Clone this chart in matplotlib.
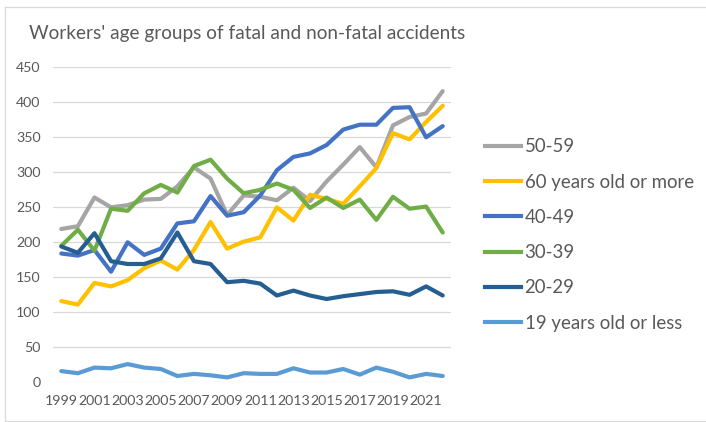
import matplotlib
matplotlib.use("Agg")
import matplotlib.pyplot as plt
from matplotlib.lines import Line2D

years = list(range(1999, 2023))
series_names = ["50-59", "60 years old or more", "40-49", "30-39", "20-29", "19 years old or less"]

age_50_59 = [219, 223, 264, 250, 253, 261, 262, 280, 307, 291, 239, 267,
             265, 260, 278, 259, 287, 311, 336, 307, 367, 379, 384, 416]
age_60_plus = [116, 111, 142, 137, 146, 163, 174, 161, 189, 229, 191, 201,
               207, 250, 231, 268, 262, 255, 280, 306, 356, 347, 372, 395]
age_40_49 = [184, 181, 189, 158, 200, 182, 191, 227, 230, 266, 238, 243,
             267, 303, 322, 327, 339, 361, 368, 368, 392, 393, 350, 366]
age_30_39 = [195, 218, 188, 248, 245, 270, 282, 271, 309, 318, 291, 270,
             275, 284, 275, 249, 264, 249, 261, 232, 265, 248, 251, 214]
age_20_29 = [194, 185, 213, 173, 169, 169, 177, 214, 173, 169, 143, 145,
             141, 124, 131, 124, 119, 123, 126, 129, 130, 125, 137, 124]
age_19_less = [16, 13, 21, 20, 26, 21, 19, 9, 12, 10, 7, 13,
               12, 12, 20, 14, 14, 19, 11, 21, 15, 7, 12, 9]

series_values = [age_50_59, age_60_plus, age_40_49, age_30_39, age_20_29, age_19_less]
colors = ["#A5A5A5", "#FFC000", "#4472C4", "#70AD47", "#255E91", "#5B9BD5"]
y_ticks = [0, 50, 100, 150, 200, 250, 300, 350, 400, 450]
x_tick_labels = [str(y) for y in years[::2]]

W, H = 706, 422
plt.rcParams['font.family'] = ['Lato', 'DejaVu Sans']
fig = plt.figure(figsize=(W / 100, H / 100), dpi=100)

def fx(px):
    return px / W

def fy(py):
    return 1 - py / H

ax = fig.add_axes([fx(53), fy(382.3), fx(451) - fx(53), fy(67.3) - fy(382.3)])
x = list(range(len(years)))
for vals, c, name in zip(series_values, colors, series_names):
    ax.plot(x, vals, color=c, lw=3.0, solid_joinstyle='round', solid_capstyle='round', label=name)

ax.set_xlim(-0.5, len(years) - 0.5)
ax.set_ylim(0, 450)
ax.set_yticks(y_ticks)
ax.set_yticklabels([str(v) for v in y_ticks])
ax.set_xticks(x[::2])
ax.set_xticklabels(x_tick_labels)
ax.grid(axis='y', color='#D9D9D9', lw=0.9)
ax.set_axisbelow(True)
for s in ax.spines.values():
    s.set_visible(False)
ax.tick_params(axis='both', length=0, colors='#595959', labelsize=10.2)
ax.tick_params(axis='y', pad=9)
ax.tick_params(axis='x', pad=9)

# title
fig.text(fx(29), fy(39), "Workers' age groups of fatal and non-fatal accidents",
         fontsize=13.7, color='#595959', ha='left', va='baseline')

# legend
handles = [Line2D([0], [0], color=c, lw=3.0) for c in colors]
fig.legend(handles, series_names, loc='upper left',
           bbox_to_anchor=(fx(478), fy(131)), frameon=False,
           fontsize=13.4, labelcolor='#595959', handlelength=1.9,
           handletextpad=0.2, labelspacing=0.98, borderaxespad=0)

# chart border (left, top, bottom)
border_c = '#D9D9D9'
fig.add_artist(Line2D([fx(5), fx(5)], [fy(7), fy(421)], color=border_c, lw=0.9))
fig.add_artist(Line2D([fx(5), fx(706)], [fy(7), fy(7)], color=border_c, lw=0.9))
fig.add_artist(Line2D([fx(5), fx(706)], [fy(421), fy(421)], color=border_c, lw=0.9))

fig.savefig("out.png", dpi=100)
